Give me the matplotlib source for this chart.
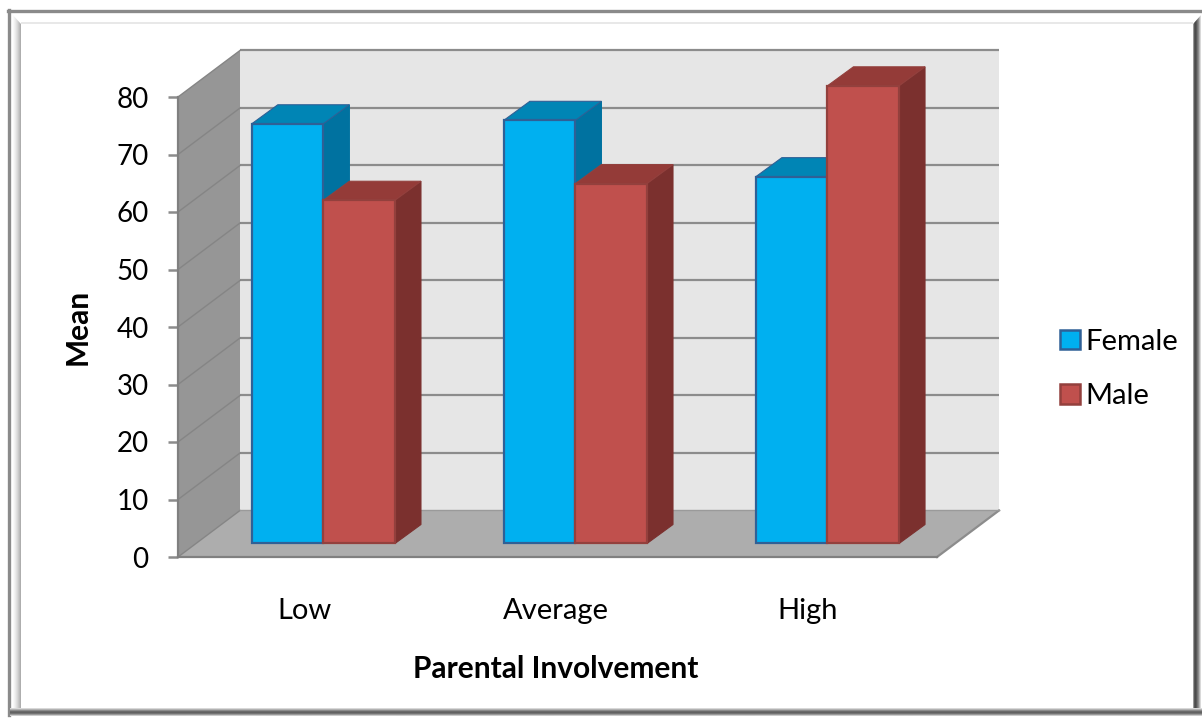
#!/usr/bin/env python3
"""Mean score by parental involvement and gender, drawn as an oblique 3D column chart."""

import numpy as np
import matplotlib
matplotlib.use("Agg")
import matplotlib.pyplot as plt
from matplotlib.patches import Patch, Polygon, Rectangle

plt.rcParams["font.family"] = ["Lato", "DejaVu Sans"]

categories = ["Low", "Average", "High"]
female = [73.0, 73.6, 63.8]
male = [59.7, 62.6, 79.6]
y_ticks = [0, 10, 20, 30, 40, 50, 60, 70, 80]

GRID = "#8c8c8c"
FEMALE = {"front": "#00B0F0", "top": "#0085B5", "side": "#0072A0", "edge": "#2F6096"}
MALE = {"front": "#C0504D", "top": "#943B38", "side": "#7B302E", "edge": "#93403D"}

# oblique projection, in data units (1 category wide, y in mean points)
WALL_DX, WALL_DY = 0.246, 8.09
BAR_DX, BAR_DY = 0.103, 3.3
BAR_BASE = 2.35
BAR_W = 0.284

# grey levels across the bevel bands of the frame
LEFT_BAND = [1.0, 0.98, 0.95, 0.92, 0.88, 0.84, 0.79, 0.74, 0.68]
RIGHT_BAND = [0.6, 0.35, 0.3, 0.35, 0.45, 0.55, 0.7, 0.85, 1.0]
BOTTOM_BAND = [0.85, 0.7, 0.55, 0.42, 0.38, 0.45, 0.6, 0.8]


def draw_frame(fig):
    """Bevelled picture frame around the whole chart, in pixel coordinates."""
    fa = fig.add_axes([0, 0, 1, 1], zorder=0)
    fa.axis("off")
    fa.plot([8.5, 8.5], [715, 10], color="#8a8a8a", lw=2.4, zorder=1)
    fa.plot([8, 1202], [10.5, 10.5], color="#8a8a8a", lw=2.4, zorder=1)
    opts = dict(cmap="gray", vmin=0, vmax=1, aspect="auto", interpolation="bilinear", zorder=2)
    fa.imshow([LEFT_BAND], extent=(12, 21, 708, 14), **opts)
    fa.imshow([RIGHT_BAND], extent=(1193, 1202, 708, 14), **opts)
    fa.imshow(np.array(BOTTOM_BAND)[:, None], extent=(10, 1202, 716, 708), **opts)
    fa.add_patch(Rectangle((21, 22), 1172, 2, fc="#e8e8e8", ec="none", zorder=2))
    # mitred corners at the top of the bevel
    fa.add_patch(Polygon([(12, 14), (21, 24), (21, 14)], fc="white", ec="none", zorder=3))
    fa.add_patch(Polygon([(1193, 14), (1193, 24), (1202, 14)], fc="white", ec="none", zorder=3))
    fa.set_xlim(0, 1202)
    fa.set_ylim(720, 0)


def draw_room(ax, x0, x1):
    """Back wall, floor and left wall with their grid lines."""
    top = y_ticks[-1]
    ax.add_patch(Polygon([(x0 + WALL_DX, WALL_DY), (x1 + WALL_DX, WALL_DY),
                          (x1 + WALL_DX, top + WALL_DY), (x0 + WALL_DX, top + WALL_DY)],
                         fc="#E6E6E6", ec="none", clip_on=False, zorder=1))
    ax.add_patch(Polygon([(x0, 0), (x1, 0), (x1 + WALL_DX, WALL_DY), (x0 + WALL_DX, WALL_DY)],
                         fc="#ADADAD", ec="none", clip_on=False, zorder=1))
    ax.add_patch(Polygon([(x0, 0), (x0, top), (x0 + WALL_DX, top + WALL_DY), (x0 + WALL_DX, WALL_DY)],
                         fc="#969696", ec="none", clip_on=False, zorder=1))
    for v in y_ticks:
        if v > 0:
            ax.plot([x0 + WALL_DX, x1 + WALL_DX], [v + WALL_DY, v + WALL_DY], color=GRID, lw=1.6,
                    clip_on=False, zorder=2, solid_capstyle="butt")
        ax.plot([x0, x0 + WALL_DX], [v, v + WALL_DY], color="#858585", lw=1.0, clip_on=False, zorder=2)
    ax.plot([x1, x1 + WALL_DX], [0, WALL_DY], color=GRID, lw=1.6, clip_on=False, zorder=2)
    ax.plot([x0 + WALL_DX, x1 + WALL_DX], [WALL_DY, WALL_DY], color="#9a9a9a", lw=1.0, clip_on=False, zorder=2)


def draw_column(ax, left, value, colors, z):
    """One column: top and side faces as polygons, front face as a bar."""
    right = left + BAR_W
    high = BAR_BASE + value
    ax.add_patch(Polygon([(right, BAR_BASE), (right + BAR_DX, BAR_BASE + BAR_DY),
                          (right + BAR_DX, high + BAR_DY), (right, high)],
                         fc=colors["side"], ec=colors["side"], lw=0.8, zorder=z, clip_on=False))
    ax.add_patch(Polygon([(left, high), (left + BAR_DX, high + BAR_DY),
                          (right + BAR_DX, high + BAR_DY), (right, high)],
                         fc=colors["top"], ec=colors["edge"], lw=0.8, zorder=z, clip_on=False))
    ax.bar(left, value, BAR_W, bottom=BAR_BASE, align="edge", color=colors["front"],
           edgecolor=colors["edge"], linewidth=1.6, zorder=z + 0.1, clip_on=False)


def main():
    fig = plt.figure(figsize=(12.02, 7.2), dpi=100)
    draw_frame(fig)

    # axes box is the front plane of the room
    ax = fig.add_axes([178 / 1202, 1 - 557 / 720, (937 - 178) / 1202, (557 - 97) / 720], zorder=1)
    ax.patch.set_visible(False)
    x = np.arange(len(categories))
    x0, x1 = -0.577, 2.4345
    ax.set_xlim(x0, x1)
    ax.set_ylim(y_ticks[0], y_ticks[-1])

    draw_room(ax, x0, x1)
    for i in x:
        draw_column(ax, i - BAR_W, female[i], FEMALE, 3 + 2 * i)
        draw_column(ax, i, male[i], MALE, 4 + 2 * i)

    for side in ("top", "right"):
        ax.spines[side].set_visible(False)
    for side in ("left", "bottom"):
        ax.spines[side].set_color("#808080")
        ax.spines[side].set_linewidth(1.6)
        ax.spines[side].set_zorder(2.5)

    ax.set_yticks(y_ticks)
    ax.tick_params(axis="y", length=7.2, width=1.8, color=GRID, pad=14, labelsize=20)
    ax.set_xticks(x - 0.077, categories)
    ax.tick_params(axis="x", length=0, pad=29.5, labelsize=21)

    fig.text(78 / 1202, 1 - 327 / 720, "Mean", rotation=90, ha="center", va="center",
             fontsize=21.5, fontweight="bold")
    fig.text(556 / 1202, 1 - 669 / 720, "Parental Involvement", ha="center", va="center",
             fontsize=21.5, fontweight="bold")

    handles = [Patch(fc=FEMALE["front"], ec=FEMALE["edge"], lw=1.8, label="Female"),
               Patch(fc=MALE["front"], ec=MALE["edge"], lw=1.8, label="Male")]
    fig.legend(handles=handles, loc="center left", bbox_to_anchor=(1034 / 1202, 1 - 369 / 720),
               frameon=False, fontsize=21, handlelength=0.66, handleheight=0.66,
               handletextpad=0.2, labelspacing=0.97)

    fig.savefig("out.png", dpi=100)
    plt.close(fig)


if __name__ == "__main__":
    main()
